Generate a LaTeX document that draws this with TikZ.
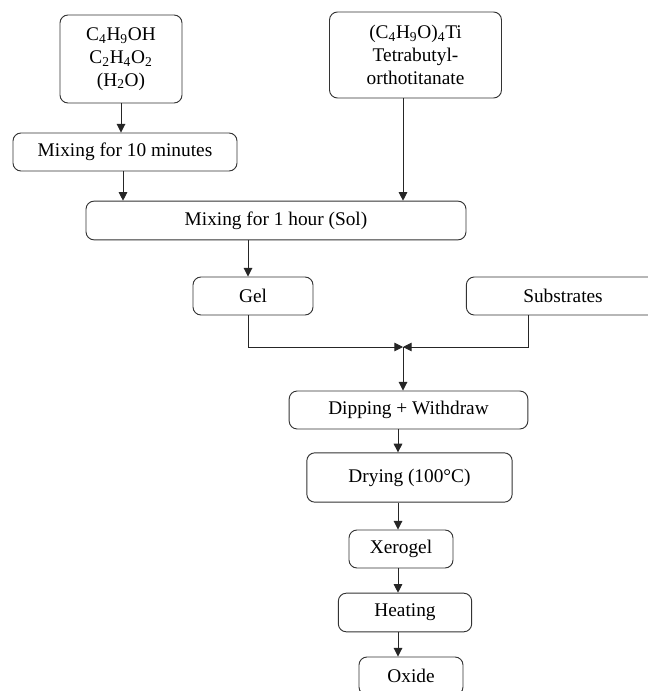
\documentclass[tikz,border=0pt]{standalone}
\usepackage{fontspec}
\setmainfont{Liberation Serif}
\usepackage{tikz}
\usetikzlibrary{arrows.meta, positioning, calc}
\tikzset{
  stage/.style={
    rectangle, rounded corners=6pt, draw=black!80, line width=0.7pt,
    inner sep=2pt, text centered, align=center,
    font=\fontsize{14.5}{17}\selectfont
  },
  arrow/.style={line width=0.7pt, draw=black!85, -{Triangle[length=6.5pt, width=6.5pt]}},
}

\begin{document}
\begin{tikzpicture}[x=0.75pt, y=-0.75pt]
  \useasboundingbox (0,0) rectangle (648,691);

  \node (reag)  [stage, minimum width=91.5pt, minimum height=66pt]   at (121,59)    {C\textsubscript{4}H\textsubscript{9}OH\\C\textsubscript{2}H\textsubscript{4}O\textsubscript{2}\\(H\textsubscript{2}O)};
  \node (tbot)  [stage, minimum width=129pt, minimum height=64.5pt]  at (415.5,55)  {(C\textsubscript{4}H\textsubscript{9}O)\textsubscript{4}Ti\\Tetrabutyl-\\orthotitanate};
  \node (mix10) [stage, minimum width=168pt, minimum height=28.5pt]  at (125,152)   {Mixing for 10 minutes};
  \node (mix1h) [stage, minimum width=285pt, minimum height=29pt]    at (276,220.5) {Mixing for 1 hour (Sol)};
  \node (gel)   [stage, minimum width=90pt, minimum height=28.5pt]   at (253,296)   {Gel};
  \node (subs)  [stage, minimum width=145pt, minimum height=28.5pt]  at (563,296)   {Substrates};
  \node (dip)   [stage, minimum width=179pt, minimum height=28.5pt]  at (408.5,410) {Dipping + Withdraw};
  \node (dry)   [stage, minimum width=154pt, minimum height=37pt]    at (409.5,477.5) {Drying (100°C)};
  \node (xero)  [stage, minimum width=78pt, minimum height=28.5pt]   at (401,549)   {Xerogel};
  \node (heat)  [stage, minimum width=100pt, minimum height=29pt]    at (405,612.5) {Heating};
  \node (oxide) [stage, minimum width=78pt, minimum height=28.5pt]   at (411,676)   {Oxide};

  \coordinate (meet) at (403,347);
  \coordinate (mixx) at (123,0);
  \coordinate (gelx) at (248,0);
  \coordinate (subx) at (528,0);
  \coordinate (lowx) at (398,0);

  \draw [arrow] (reag.south)  -- (reag.south |- mix10.north);
  \draw [arrow] (mix10.south -| mixx) -- (mix1h.north -| mixx);
  \draw [arrow] (tbot.south -| meet) -- (mix1h.north -| meet);
  \draw [arrow] (mix1h.south -| gelx) -- (gel.north -| gelx);
  \draw [arrow] (gel.south -| gelx) |- (meet);
  \draw [arrow] (subs.south -| subx) |- (meet);
  \draw [arrow] (meet) -- (dip.north -| meet);
  \draw [arrow] (dip.south -| lowx)  -- (dry.north -| lowx);
  \draw [arrow] (dry.south -| lowx)  -- (xero.north -| lowx);
  \draw [arrow] (xero.south -| lowx) -- (heat.north -| lowx);
  \draw [arrow] (heat.south -| lowx) -- (oxide.north -| lowx);
\end{tikzpicture}
\end{document}
